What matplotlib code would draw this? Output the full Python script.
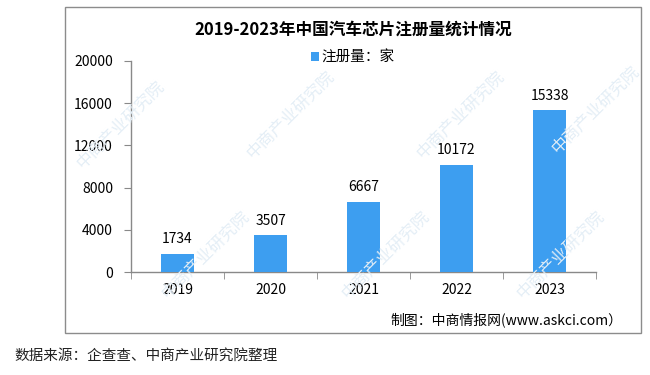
import matplotlib.pyplot as plt
from matplotlib.patches import Rectangle

# data
years = ['2019', '2020', '2021', '2022', '2023']
counts = [1734, 3507, 6667, 10172, 15338]
yticks = [0, 4000, 8000, 12000, 16000, 20000]

title = '2019-2023年中国汽车芯片注册量统计情况'
legend_label = '注册量：家'
credit = '制图：中商情报网(www.askci.com）'
source = '数据来源：企查查、中商产业研究院整理'

plt.rcParams['font.family'] = ['Noto Sans CJK SC', 'DejaVu Sans']

bar_color = '#3d9ef0'
axis_color = '#898989'

fig = plt.figure(figsize=(6.5, 3.75), dpi=100)

# outer frame
fig.patches.append(Rectangle((65 / 650, 1 - 333 / 375), (641 - 65) / 650, (333 - 7) / 375,
                             transform=fig.transFigure, fill=False,
                             edgecolor='#8c8c8c', linewidth=1.0))

# faint watermark (pixel centres)
wm_pos = [(120, 125), (290, 115), (460, 115), (595, 110),
          (205, 255), (385, 255), (560, 255)]
for wx, wy in wm_pos:
    fig.text(wx / 650, 1 - wy / 375, '中商产业研究院', rotation=45, fontsize=12,
             color='#e4eef6', ha='center', va='center', zorder=0)

ax = fig.add_axes([131 / 650, 1 - 272 / 375, (596 - 131) / 650, (272 - 61) / 375])
ax.patch.set_alpha(0)

x = list(range(len(years)))
bars = ax.bar(x, counts, width=0.35, color=bar_color, zorder=3, label=legend_label)

for xi, v in zip(x, counts):
    ax.text(xi, v + 700, str(v), ha='center', va='bottom', fontsize=10, color='#000000')

ax.set_xlim(-0.5, len(years) - 0.5)
ax.set_ylim(0, 20000)
ax.set_yticks(yticks)
ax.set_yticklabels([str(t) for t in yticks], fontsize=10)
ax.set_xticks(x)
ax.set_xticklabels(years, fontsize=10)
ax.set_xticks([i - 0.5 for i in range(len(years) + 1)], minor=True)
ax.tick_params(axis='x', which='major', length=0, pad=8)
ax.tick_params(axis='x', which='minor', length=5, color=axis_color, direction='out')
ax.tick_params(axis='y', length=5, color=axis_color, pad=8)

for side in ['top', 'right']:
    ax.spines[side].set_visible(False)
for side in ['left', 'bottom']:
    ax.spines[side].set_color(axis_color)
    ax.spines[side].set_linewidth(1.0)

fig.text(353 / 650, 1 - 30 / 375, title, ha='center', va='center',
         fontsize=12, fontweight='bold', color='#000000')

fig.legend(handles=[bars], loc='center', bbox_to_anchor=(353 / 650, 1 - 58 / 375),
           frameon=False, fontsize=10.5, handlelength=0.55, handleheight=0.55,
           handletextpad=0.2)

fig.text(622 / 650, 1 - 320 / 375, credit, ha='right', va='center', fontsize=10)
fig.text(14 / 650, 1 - 356 / 375, source, ha='left', va='center', fontsize=10.5,
         color='#222222')

fig.savefig('out.png', dpi=100)
